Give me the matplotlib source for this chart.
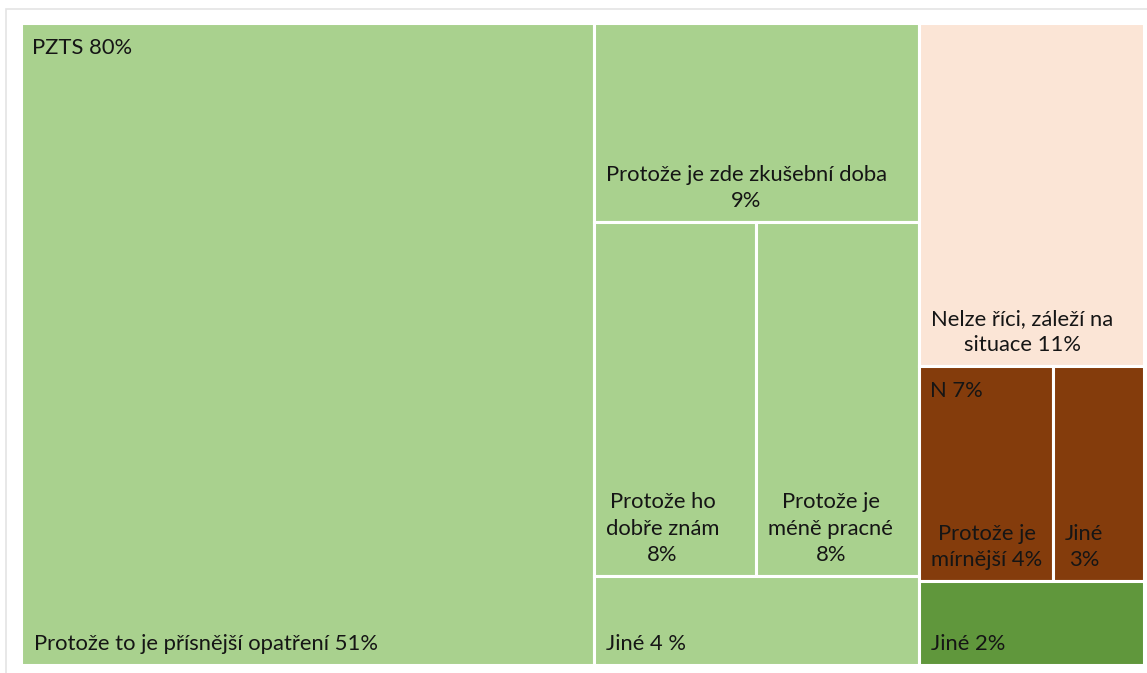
import matplotlib
matplotlib.use("Agg")
import matplotlib.pyplot as plt
from matplotlib.patches import Rectangle

plt.rcParams['font.family'] = ['Lato', 'DejaVu Sans']

# Data (share of answers, %) - values read from the tile areas
pzts_labels = ["Protože to je přísnější opatření 51%",
               "Protože je zde zkušební doba\n9%",
               "Protože ho\ndobře znám\n8%",
               "Protože je\nméně pracné\n8%",
               "Jiné 4 %"]
pzts_values = [51, 9, 8, 8, 4]

n_labels = ["Protože je\nmírnější 4%", "Jiné\n3%"]
n_values = [4.0, 2.7]

nelze_label = "Nelze říci, záleží na\nsituace 11%"
nelze_value = 10.7
jine_label = "Jiné 2%"
jine_value = 2.6

group_names = ["PZTS 80%", nelze_label, "N 7%", jine_label]
group_values = [sum(pzts_values), nelze_value, sum(n_values), jine_value]

GREEN = "#A9D18E"
PEACH = "#FBE5D6"
BROWN = "#843C0C"
DKGREEN = "#60973C"
TXT = "#151515"


def worst(row, side):
    s = sum(row)
    return max(max(side * side * r / (s * s), s * s / (side * side * r)) for r in row)


def squarify(values, x, y, w, h):
    total = sum(values)
    areas = [v / total * w * h for v in values]
    rects = []
    i = 0
    while i < len(areas):
        side = min(w, h)
        row = [areas[i]]
        i += 1
        while i < len(areas) and worst(row + [areas[i]], side) <= worst(row, side):
            row.append(areas[i])
            i += 1
        s = sum(row)
        if w >= h:
            cw = s / h
            yy = y
            for a in row:
                rects.append((x, yy, cw, a / cw))
                yy += a / cw
            x += cw
            w -= cw
        else:
            rh = s / w
            xx = x
            for a in row:
                rects.append((xx, y, a / rh, rh))
                xx += a / rh
            y += rh
            h -= rh
    return rects


fig = plt.figure(figsize=(11.47, 6.73), dpi=100)
ax = fig.add_axes([21.5 / 1147, 8.5 / 673, 1122 / 1147, 641.5 / 673])
W, H = 2.0, 1.0
ax.set_xlim(0, W)
ax.set_ylim(H, 0)
ax.axis('off')

# light chart-area frame
fig.patches.append(Rectangle((6 / 1147, -0.05), 1.2, (673 - 9) / 673 + 0.05,
                             transform=fig.transFigure, fill=False,
                             edgecolor="#e4e4e4", lw=1.2))

FS = 15.8


def leaf(rect, label, color):
    x, y, w, h = rect
    ax.add_patch(Rectangle((x, y), w, h, facecolor=color, edgecolor="white", lw=2.2))
    ax.annotate(label, xy=(x, y + h), xytext=(12, 11), textcoords='offset pixels',
                ha='left', va='bottom', multialignment='center', linespacing=1.4,
                fontsize=FS, color=TXT)


def header(rect, label):
    x, y, w, h = rect
    ax.annotate(label, xy=(x, y), xytext=(11, -15), textcoords='offset pixels',
                ha='left', va='top', fontsize=FS, color=TXT)


top = squarify(group_values, 0, 0, W, H)

# PZTS group
for r, lab in zip(squarify(pzts_values, *top[0]), pzts_labels):
    leaf(r, lab, GREEN)
header(top[0], group_names[0])

# Nelze
leaf(top[1], nelze_label, PEACH)

# N group
for r, lab in zip(squarify(n_values, *top[2]), n_labels):
    leaf(r, lab, BROWN)
header(top[2], group_names[2])

# Jiné
leaf(top[3], jine_label, DKGREEN)

fig.savefig("out.png", dpi=100)
